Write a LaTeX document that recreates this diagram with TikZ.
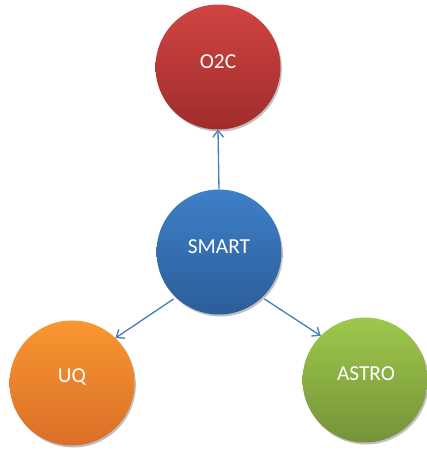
\documentclass[tikz,border=0pt]{standalone}
\usepackage{fontspec}
\setmainfont{Carlito}
\usetikzlibrary{arrows.meta,shadows}
\definecolor{lnk}{HTML}{4A7EBB}
\definecolor{redT}{HTML}{CF4442}\definecolor{redB}{HTML}{A02D2B}
\definecolor{bluT}{HTML}{3E80C8}\definecolor{bluB}{HTML}{2C5D99}
\definecolor{orgT}{HTML}{FA9631}\definecolor{orgB}{HTML}{D96F27}
\definecolor{grnT}{HTML}{9EC84B}\definecolor{grnB}{HTML}{74933A}
\tikzset{
  bubble/.style={circle, minimum size=93.75pt, inner sep=0pt, outer sep=0pt,
    draw=none,
    drop shadow={shadow xshift=1pt, shadow yshift=-1.5pt, opacity=0.25, fill=black}},
  lbl/.style={text=white, font=\fontsize{16pt}{19pt}\selectfont, inner sep=0pt},
  link/.style={draw=lnk, line width=1pt, -{Straight Barb[length=5pt,width=8pt]}}
}
\begin{document}
\begin{tikzpicture}[x=0.75pt,y=-0.75pt]
\useasboundingbox (0,0) rectangle (427,451);
\node[bubble, top color=redT, bottom color=redB] (o2c) at (218,67) {};
\node[bubble, top color=bluT, bottom color=bluB] (smart) at (219,252) {};
\node[bubble, top color=orgT, bottom color=orgB] (uq) at (72,383) {};
\node[bubble, top color=grnT, bottom color=grnB] (astro) at (365,380) {};
\node[lbl] (to2c) at (218,62) {O2C};
\node[lbl] (tsmart) at (219,247) {SMART};
\node[lbl] (tuq) at (72,377) {UQ};
\node[lbl] (tastro) at (366,374) {ASTRO};
\draw[link] (smart.90) -- (o2c.270);
\draw[link] ([shift={(-2,2)}]smart.226) -- (uq.46);
\draw[link] ([shift={(2,2)}]smart.314) -- (astro.135);
\end{tikzpicture}
\end{document}
